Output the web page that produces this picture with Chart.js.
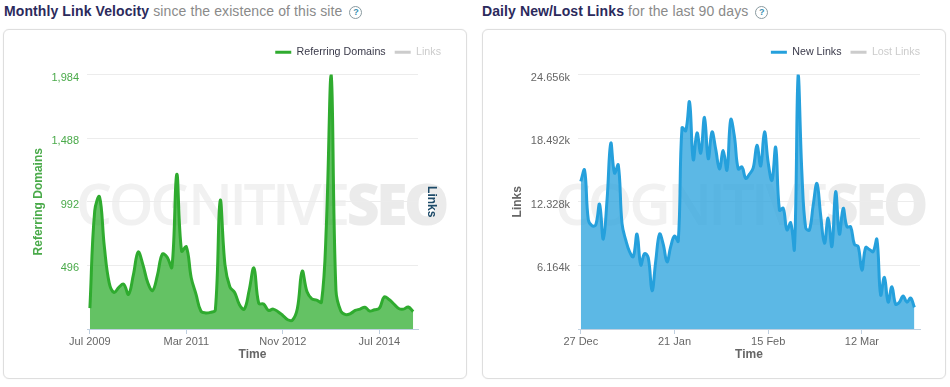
<!DOCTYPE html>
<html>
<head>
<meta charset="utf-8">
<script src="https://cdn.jsdelivr.net/npm/chart.js@4"></script>
<style>
html, body { margin: 0; padding: 0; background: #fff; }
body { width: 950px; height: 387px; position: relative; overflow: hidden; font-family: "Liberation Sans", Arial, sans-serif; }
.heading { position: absolute; top: 2px; font-size: 14px; line-height: 18px; color: #8a8a8a; white-space: nowrap; letter-spacing: 0.1px; }
.heading b { color: #2b2a5c; }
.help { display: inline-block; width: 11px; height: 11px; line-height: 11px; border: 1px solid #8a9aa0; border-radius: 50%; font-size: 9px; font-weight: bold; text-align: center; color: #3c8fb0; margin-left: 3px; vertical-align: 1px; letter-spacing: 0; }
.panel { position: absolute; top: 29px; width: 462px; height: 348px; border: 1px solid #dedede; box-shadow: 0 0 1px #dddddd; border-radius: 6px; box-sizing: content-box; }
.mark { position: absolute; left: 72px; top: 143px; font: 600 57px/60px "Open Sans", sans-serif; letter-spacing: -3.4px; color: #f1f1f1; white-space: nowrap; }
.mark span { font-weight: 800; color: #ebebeb; }
canvas { position: absolute; left: 0; top: 0; }
</style>
</head>
<body>
<div class="heading" style="left:4px"><b>Monthly Link Velocity</b> since the existence of this site <span class="help">?</span></div>
<div class="heading" style="left:482px"><b>Daily New/Lost Links</b> for the last 90 days <span class="help">?</span></div>

<div class="panel" style="left:3px"><div class="mark">COGNITIVE<span>SEO</span></div><canvas id="velocityChart" width="446" height="348"></canvas></div>
<div class="panel" style="left:482px"><div class="mark">COGNITIVE<span>SEO</span></div><canvas id="dailyChart" width="446" height="348"></canvas></div>

<script>
// monthly referring domains (Jul 2009 onward)
const referringDomains = [
  163, 920, 1030, 640, 360, 285, 325, 350, 270, 420,
  600, 500, 360, 300, 420, 584, 560, 482, 1206, 607,
  640, 400, 270, 140, 125, 130, 150, 1000, 500, 330,
  285, 190, 155, 300, 475, 200, 195, 145, 155, 135,
  105, 72, 70, 160, 450, 290, 235, 225, 210, 800,
  1984, 300, 140, 112, 120, 145, 155, 170, 140, 150,
  163, 250, 230, 195, 160, 155, 172, 135
];
const velocityTickAt = [0, 20, 40, 60];
const velocityTickLabels = ["Jul 2009", "Mar 2011", "Nov 2012", "Jul 2014"];

// daily new links, last 90 days (27 Dec onward)
const newLinks = [
  14300, 15400, 10600, 10000, 10100, 12100, 8700, 12500, 18000, 15100,
  15900, 10200, 8600, 7500, 7000, 9200, 6200, 7300, 6900, 3700,
  6600, 9200, 8200, 6500, 8000, 9000, 8500, 19500, 19200, 22000,
  16400, 19000, 17050, 20500, 16500, 19100, 17400, 15500, 17300, 15400,
  20300, 18600, 15500, 15700, 14600, 15000, 15600, 17800, 15800, 19100,
  16100, 14400, 17600, 11500, 11700, 9600, 10300, 7750, 24656, 15000,
  9800, 9600, 12000, 14100, 11000, 8300, 10750, 8000, 13300, 9200,
  11700, 9900, 9900, 8200, 8000, 5700, 7900, 7700, 7500, 8700,
  3300, 5000, 2600, 4100, 2400, 2600, 3200, 2600, 3000, 2100
];
const dailyTickAt = [0, 25, 50, 75];
const dailyTickLabels = ["27 Dec", "21 Jan", "15 Feb", "12 Mar"];

const axisLine = "#c0d0e0";
const gridLine = "#ececec";
const tickText = "#666666";

// keeps the legend row from pushing the plot around
const legendHeight = {
  id: "legendHeight",
  beforeInit(chart) {
    const fit = chart.legend.fit;
    chart.legend.fit = function () {
      fit.call(this);
      this.height = 36.5;
    };
  }
};

function buildChart(id, cfg) {
  return new Chart(document.getElementById(id), {
    type: "line",
    plugins: [legendHeight],
    data: {
      datasets: [
        {
          label: cfg.mainLabel,
          data: cfg.values.map((v, i) => ({ x: i, y: v })),
          borderColor: cfg.line,
          backgroundColor: cfg.fill,
          borderWidth: 3,
          pointRadius: 0,
          tension: 0.4,
          fill: "origin"
        },
        {
          label: cfg.offLabel,
          data: [],
          hidden: true,
          borderColor: "#cccccc",
          yAxisID: "y1"
        }
      ]
    },
    options: {
      responsive: false,
      animation: false,
      layout: { padding: { left: 25, top: 8, bottom: 16 } },
      scales: {
        x: {
          type: "linear",
          min: cfg.xMin,
          max: cfg.xMax,
          afterBuildTicks: (s) => { s.ticks = cfg.tickAt.map((v) => ({ value: v })); },
          afterFit: (s) => { s.height = 33; },
          grid: { drawOnChartArea: false, drawTicks: true, tickLength: 5, tickColor: axisLine },
          border: { color: axisLine },
          ticks: {
            autoSkip: false, maxRotation: 0, padding: 1, color: tickText,
            font: { size: 11 },
            callback: (v) => cfg.tickLabels[cfg.tickAt.indexOf(v)]
          },
          title: { display: true, text: "Time", color: tickText, padding: 0, font: { size: 12, weight: "bold" } }
        },
        y: {
          min: 0,
          max: cfg.yMax,
          afterFit: (s) => { s.width = cfg.yWidth; },
          grid: { color: (c) => c.tick.value === 0 ? "rgba(0,0,0,0)" : gridLine, drawTicks: false },
          border: { display: false },
          ticks: {
            stepSize: cfg.yMax / 4, padding: 8, color: cfg.yColor,
            font: { size: 11, lineHeight: "6px" },
            // blank first line pushes the label a bit under its grid line
            callback: (v) => v === 0 ? "" : ["", cfg.yFormat(v)]
          },
          title: { display: true, text: cfg.yTitle, color: cfg.yColor, padding: { top: 2, bottom: 0 }, font: { size: 12, weight: "bold" } }
        },
        y1: {
          position: "right",
          display: true,
          min: 0,
          max: cfg.yMax,
          afterFit: (s) => { s.width = cfg.rightWidth; },
          grid: { drawOnChartArea: false, drawTicks: false },
          border: { display: false },
          ticks: { display: false },
          title: { display: !!cfg.rightTitle, text: cfg.rightTitle, color: "#1d4a68", padding: { top: 11, bottom: 0 }, font: { size: 12, weight: "bold" } }
        }
      },
      plugins: {
        tooltip: { enabled: false },
        legend: {
          position: "top",
          align: "end",
          labels: {
            boxWidth: 16,
            boxHeight: 3,
            padding: 9,
            font: { size: 10.7 },
            generateLabels: (chart) => chart.data.datasets.map((d, i) => ({
              text: d.label,
              datasetIndex: i,
              fillStyle: d.hidden ? "#cccccc" : d.borderColor,
              strokeStyle: "rgba(0,0,0,0)",
              lineWidth: 0,
              fontColor: d.hidden ? "#cccccc" : "#3a3a4a"
            }))
          }
        }
      }
    }
  });
}

buildChart("velocityChart", {
  values: referringDomains,
  tickAt: velocityTickAt,
  tickLabels: velocityTickLabels,
  xMin: -0.6,
  xMax: 68,
  yMax: 1984,
  yWidth: 58,
  yColor: "#4aaa4a",
  yTitle: "Referring Domains",
  yFormat: (v) => v.toLocaleString("en-US"),
  rightTitle: "Links",
  rightWidth: 32,
  mainLabel: "Referring Domains",
  offLabel: "Links",
  line: "#2fab2f",
  fill: "rgba(40,170,40,0.72)"
});

buildChart("dailyChart", {
  values: newLinks,
  tickAt: dailyTickAt,
  tickLabels: dailyTickLabels,
  xMin: -0.75,
  xMax: 90.5,
  yMax: 24656,
  yWidth: 70,
  yColor: tickText,
  yTitle: "Links",
  yFormat: (v) => (v / 1000).toFixed(3) + "k",
  rightTitle: "",
  rightWidth: 9,
  mainLabel: "New Links",
  offLabel: "Lost Links",
  line: "#25a0dc",
  fill: "rgba(37,160,220,0.75)"
});
</script>
</body>
</html>
